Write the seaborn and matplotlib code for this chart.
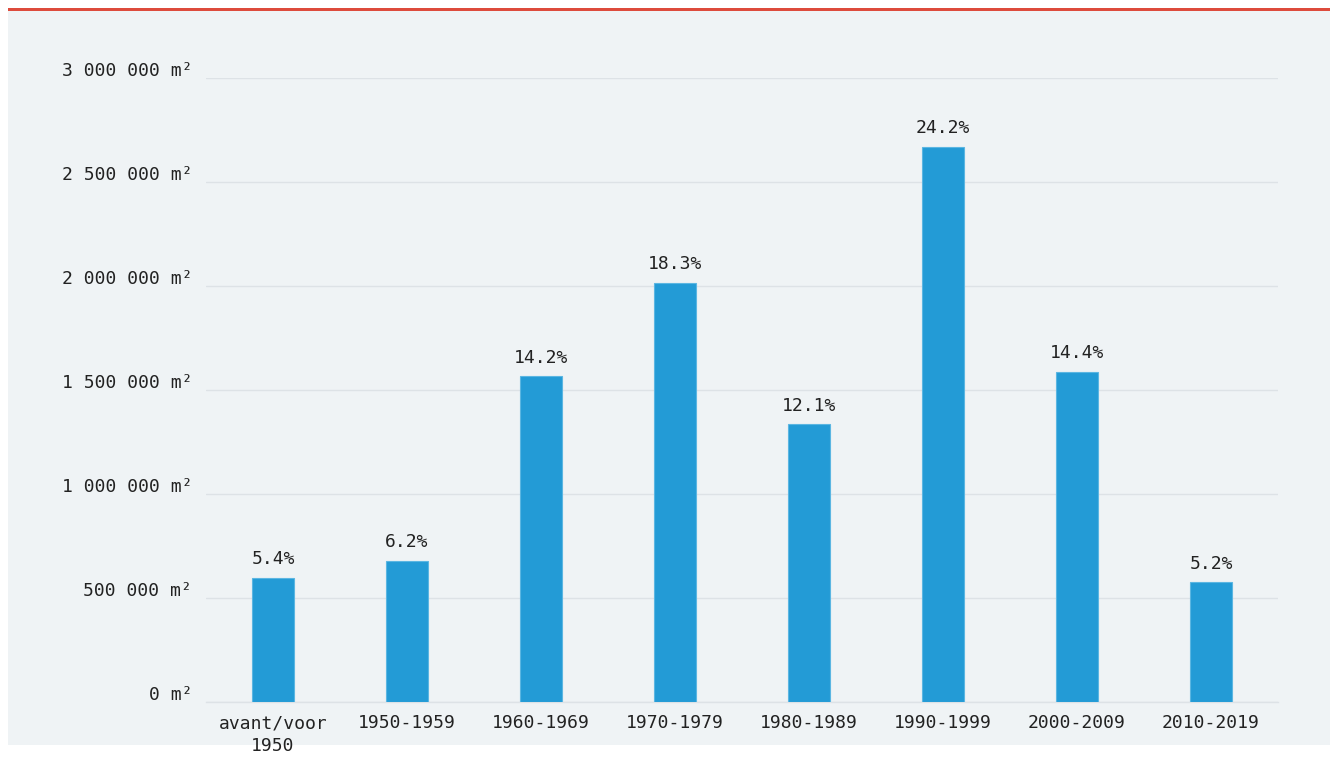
import matplotlib
matplotlib.use("Agg")
import matplotlib.pyplot as plt
import matplotlib.transforms as mtransforms
import seaborn as sns
import pandas as pd
from matplotlib.patches import Rectangle
from matplotlib.ticker import FuncFormatter

periods = ["avant/voor\n1950", "1950-1959", "1960-1969", "1970-1979",
           "1980-1989", "1990-1999", "2000-2009", "2010-2019"]
surface_m2 = [596000, 680000, 1566000, 2015000, 1335000, 2668000, 1587000, 575000]
share_pct = [5.4, 6.2, 14.2, 18.3, 12.1, 24.2, 14.4, 5.2]
y_ticks = [0, 500000, 1000000, 1500000, 2000000, 2500000, 3000000]

bg = "#eff3f5"
bar_color = "#239bd6"
text_color = "#222222"
grid_color = "#dde2e6"
fs = 13

sns.set_theme(style="white")
plt.rcParams["font.family"] = ["DejaVu Sans Mono", "DejaVu Sans"]

fig = plt.figure(figsize=(13.3, 7.72), dpi=100)
fig.patch.set_facecolor("white")
# panel background and top accent rule
fig.patches.append(Rectangle((8 / 1330, 1 - 745 / 772), 1 - 8 / 1330, (745 - 10) / 772,
                             transform=fig.transFigure, facecolor=bg, edgecolor="none", zorder=-2))
fig.patches.append(Rectangle((8 / 1330, 1 - 11 / 772), 1 - 8 / 1330, 3 / 772,
                             transform=fig.transFigure, facecolor="#dd4b3c", edgecolor="none", zorder=-1))

ax = fig.add_axes([206 / 1330, 1 - 702 / 772, (1278 - 206) / 1330, (702 - 78) / 772])
ax.set_facecolor(bg)
ax.patch.set_alpha(0)

df = pd.DataFrame({"period": periods, "surface": surface_m2})
sns.barplot(data=df, x="period", y="surface", color=bar_color, width=0.31,
            saturation=1, ax=ax, zorder=3, linewidth=0.8, edgecolor="#5bb6e2")

for i, (v, p) in enumerate(zip(surface_m2, share_pct)):
    ax.annotate(f"{p:.1f}%", (i, v), xytext=(0, 7), textcoords="offset points",
                ha="center", va="bottom", fontsize=fs, color=text_color)

ax.set_xlim(-0.5, len(periods) - 0.5)
ax.set_ylim(0, 3000000)
ax.set_yticks(y_ticks)
ax.yaxis.set_major_formatter(FuncFormatter(
    lambda v, _: f"{int(v):,}".replace(",", " ") + " m²"))
ax.grid(axis="y", color=grid_color, linewidth=1, zorder=0)
ax.grid(axis="x", visible=False)
for s in ["top", "right", "left"]:
    ax.spines[s].set_visible(False)
ax.spines["bottom"].set_color(grid_color)
ax.spines["bottom"].set_linewidth(1)
ax.tick_params(axis="y", length=0, pad=10, labelsize=fs, labelcolor=text_color)
ax.tick_params(axis="x", length=0, pad=9, labelsize=fs, labelcolor=text_color)
ax.set_xlabel("")
ax.set_ylabel("")

# y labels sit slightly above their gridlines
lift = mtransforms.ScaledTranslation(0, 9 / 100, fig.dpi_scale_trans)
for lbl in ax.get_yticklabels():
    lbl.set_transform(lbl.get_transform() + lift)
for lbl in ax.get_xticklabels():
    lbl.set_linespacing(1.35)

fig.savefig("out.png", dpi=100, facecolor=fig.get_facecolor())
